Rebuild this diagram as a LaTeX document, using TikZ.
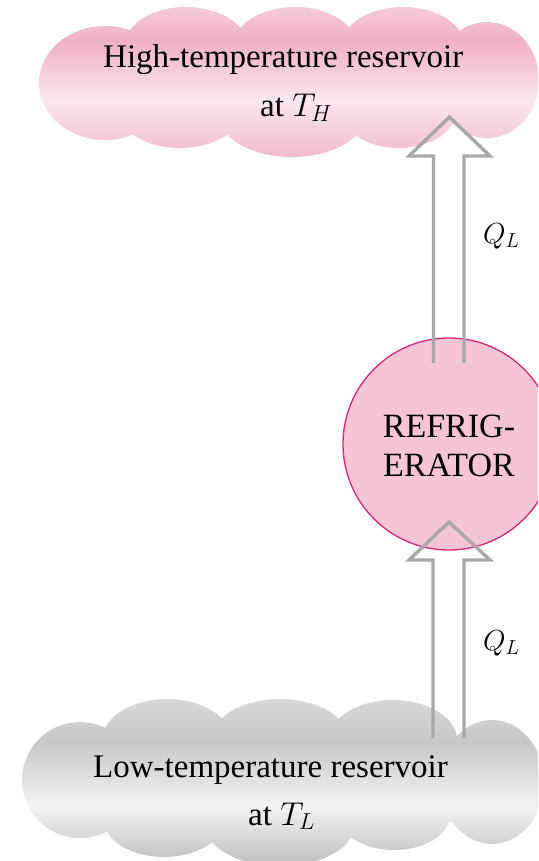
\RequirePackage{fix-cm}
\documentclass[tikz,border=0pt]{standalone}
\usepackage{fontspec}
\setmainfont{Liberation Serif}
\usetikzlibrary{calc}
\definecolor{pkTop}{HTML}{F6D1DE}
\definecolor{pkDark}{HTML}{EFB0C6}
\definecolor{pkLight}{HTML}{FAE7F0}
\definecolor{pkBot}{HTML}{EFB4C8}
\definecolor{gyTop}{HTML}{DADADA}
\definecolor{gyDark}{HTML}{C7C7C7}
\definecolor{gyLight}{HTML}{F3F3F3}
\definecolor{gyBot}{HTML}{C2C2C2}
\definecolor{frFill}{HTML}{F5C4D5}
\definecolor{frLine}{HTML}{D2287A}
\definecolor{arrowGray}{HTML}{A8A8A8}
\begin{document}
\begin{tikzpicture}[x=1pt,y=-1pt,
  cloudtext/.style={inner sep=0pt, anchor=base west, font=\fontsize{33}{40}\selectfont},
  qtext/.style={inner sep=0pt, anchor=base west, font=\fontsize{29}{35}\selectfont},
  blockarrow/.style={draw=arrowGray, line width=3.4pt, line join=miter, line cap=butt},
  reservoirbox/.style={circle, minimum size=212pt, inner sep=0pt, fill=frFill, draw=frLine, line width=1.3pt}]
\useasboundingbox (0,0) rectangle (538,861);
\clip (0,0) rectangle (538,861);
% high-temperature cloud
\begin{scope}
  \clip (105,83) ellipse [x radius=66pt, y radius=57pt]
        (186,47) ellipse [x radius=62pt, y radius=40pt]
        (295,47) ellipse [x radius=62pt, y radius=40pt]
        (403,47) ellipse [x radius=62pt, y radius=40pt]
        (487,80) ellipse [x radius=52pt, y radius=58pt]
        (180,113) ellipse [x radius=60pt, y radius=35pt]
        (292,117) ellipse [x radius=72pt, y radius=40pt]
        (399,113) ellipse [x radius=56pt, y radius=35pt]
        (288,82) ellipse [x radius=240pt, y radius=45pt];
  \shade[top color=pkTop, bottom color=pkDark] (0,0) rectangle (538,40.5);
  \shade[top color=pkDark, bottom color=pkLight] (0,40) rectangle (538,100.5);
  \shade[top color=pkLight, bottom color=pkBot] (0,100) rectangle (538,165);
\end{scope}
% low-temperature cloud
\begin{scope}
  \clip (80,780) ellipse [x radius=58pt, y radius=58pt]
        (167,739) ellipse [x radius=64pt, y radius=40pt]
        (280,739) ellipse [x radius=68pt, y radius=40pt]
        (393,740) ellipse [x radius=64pt, y radius=40pt]
        (492,782) ellipse [x radius=52pt, y radius=62pt]
        (164,820) ellipse [x radius=60pt, y radius=37pt]
        (280,826) ellipse [x radius=74pt, y radius=40pt]
        (394,815) ellipse [x radius=56pt, y radius=35pt]
        (280,785) ellipse [x radius=250pt, y radius=50pt];
  \shade[top color=gyTop, bottom color=gyDark] (0,695) rectangle (538,742.5);
  \shade[top color=gyDark, bottom color=gyLight] (0,742) rectangle (538,805.5);
  \shade[top color=gyLight, bottom color=gyBot] (0,805) rectangle (538,861);
\end{scope}
% refrigerator
\node[reservoirbox] (fr) at (449,444) {};
\node[inner sep=0pt, align=center, font=\fontsize{34}{39}\selectfont] (frtext) at (449,446) {REFRIG-\\ERATOR};
% arrow coordinates
\coordinate (upTip) at (449.5,117);
\coordinate (upTail) at (448.5,363);
\coordinate (loTip) at (449,522);
\coordinate (loTail) at (448.5,738);
% upper arrow (refrigerator -> high-temperature reservoir)
\draw[blockarrow] ($(upTail)+(-15,0)$) -- ($(upTip)+(-16,39)$) -- ($(upTip)+(-40.5,39)$) -- (upTip)
  -- ($(upTip)+(40.5,39)$) -- ($(upTip)+(14.5,39)$) -- ($(upTail)+(15.5,0)$);
% lower arrow (low-temperature reservoir -> refrigerator)
\draw[blockarrow] ($(loTail)+(-15.5,0)$) -- ($(loTip)+(-16,38)$) -- ($(loTip)+(-40,38)$) -- (loTip)
  -- ($(loTip)+(41,38)$) -- ($(loTip)+(15,38)$) -- ($(loTail)+(15.5,0)$);
% texts
\node[cloudtext] (hot1) at (103,68) {High-temperature reservoir};
\node[cloudtext] (hot2) at (260,117) {at $T_H$};
\node[cloudtext] (cold1) at (93,777) {Low-temperature reservoir};
\node[cloudtext] (cold2) at (248,825) {at $T_L$};
\node[qtext] (q1) at (483,243) {$Q_L$};
\node[qtext] (q2) at (483,650) {$Q_L$};
\end{tikzpicture}
\end{document}
